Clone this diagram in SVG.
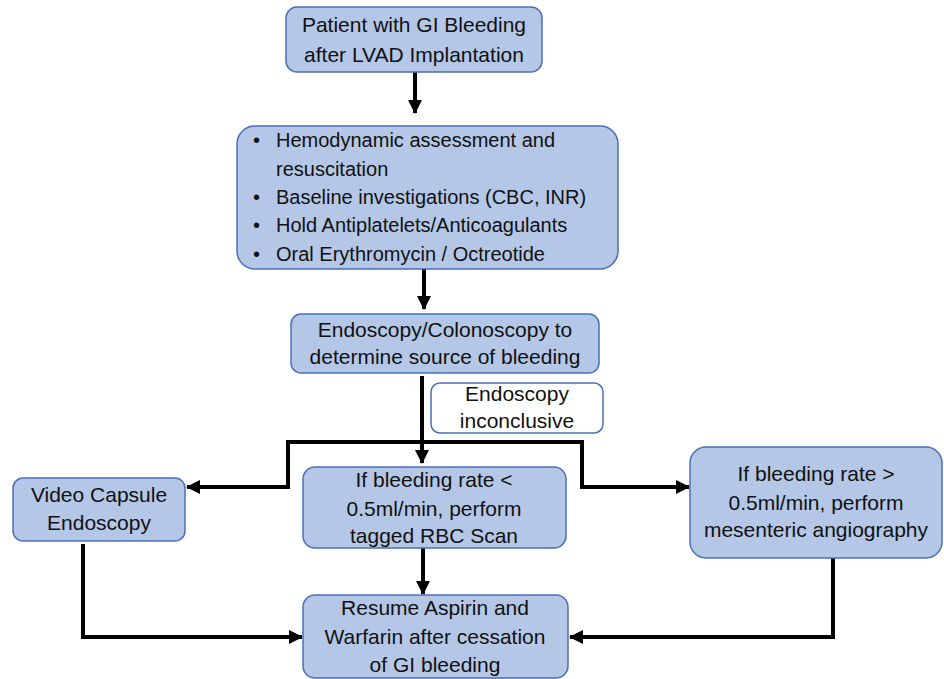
<svg xmlns="http://www.w3.org/2000/svg" width="944" height="679" viewBox="0 0 944 679">
<style>
.box{fill:#b4c7e7;stroke:#4a6fb5;stroke-width:1.5}
.lbl{fill:#ffffff;stroke:#4a6fb5;stroke-width:1.5}
text{font-family:"Liberation Sans",Arial,sans-serif;font-size:21px;fill:#111}
.b{font-size:20px}
.c{text-anchor:middle}
.conn{fill:none;stroke:#000;stroke-width:4}
</style>
<defs>
<marker id="ah" markerUnits="userSpaceOnUse" markerWidth="14" markerHeight="14" refX="13" refY="7" orient="auto">
<path d="M0,0 L14,7 L0,14 z" fill="#000"/>
</marker>
</defs>
<rect width="944" height="679" fill="#fff"/>
<g id="connectors">
<path class="conn" d="M415,72 V113" marker-end="url(#ah)"/>
<path class="conn" d="M424,269 V309" marker-end="url(#ah)"/>
<path class="conn" d="M422,376 V463" marker-end="url(#ah)"/>
<path class="conn" d="M422,442 H288 V487 H187" marker-end="url(#ah)"/>
<path class="conn" d="M422,442 H582 V487 H689" marker-end="url(#ah)"/>
<path class="conn" d="M83,544 V637 H302" marker-end="url(#ah)"/>
<path class="conn" d="M833,557 V637 H570" marker-end="url(#ah)"/>
<path class="conn" d="M423,548 V594" marker-end="url(#ah)"/>
</g>
<g id="start">
<rect class="box" x="286" y="7" width="256" height="65" rx="11"/>
<text class="c" x="414" y="32">Patient with GI Bleeding</text>
<text class="c" x="414" y="62">after LVAD Implantation</text>
</g>
<g id="initial">
<rect class="box" x="237" y="126" width="381" height="143" rx="18"/>
<text class="b" x="253" y="147">•</text><text class="b" x="276" y="147">Hemodynamic assessment and</text>
<text class="b" x="276" y="176">resuscitation</text>
<text class="b" x="253" y="204">•</text><text class="b" x="276" y="204">Baseline investigations (CBC, INR)</text>
<text class="b" x="253" y="232">•</text><text class="b" x="276" y="232">Hold Antiplatelets/Anticoagulants</text>
<text class="b" x="253" y="261">•</text><text class="b" x="276" y="261">Oral Erythromycin / Octreotide</text>
</g>
<g id="endoscopy">
<rect class="box" x="291" y="314" width="308" height="59" rx="10"/>
<text class="c" x="445" y="337">Endoscopy/Colonoscopy to</text>
<text class="c" x="445" y="364">determine source of bleeding</text>
</g>
<g id="inconclusive">
<rect class="lbl" x="431" y="383" width="172" height="50" rx="9"/>
<text class="c" x="517" y="401">Endoscopy</text>
<text class="c" x="517" y="428">inconclusive</text>
</g>
<g id="vce">
<rect class="box" x="13" y="478" width="172" height="63" rx="10"/>
<text class="c" x="99" y="502">Video Capsule</text>
<text class="c" x="99" y="530">Endoscopy</text>
</g>
<g id="rbc">
<rect class="box" x="303" y="467" width="263" height="81" rx="12"/>
<text class="c" x="434" y="487">If bleeding rate &lt;</text>
<text class="c" x="434" y="516">0.5ml/min, perform</text>
<text class="c" x="434" y="543">tagged RBC Scan</text>
</g>
<g id="angio">
<rect class="box" x="690" y="447" width="252" height="111" rx="16"/>
<text class="c" x="816" y="481">If bleeding rate &gt;</text>
<text class="c" x="816" y="510">0.5ml/min, perform</text>
<text class="c" x="816" y="537">mesenteric angiography</text>
</g>
<g id="resume">
<rect class="box" x="303" y="595" width="265" height="83" rx="12"/>
<text class="c" x="435" y="615">Resume Aspirin and</text>
<text class="c" x="435" y="644">Warfarin after cessation</text>
<text class="c" x="435" y="672">of GI bleeding</text>
</g>
</svg>
